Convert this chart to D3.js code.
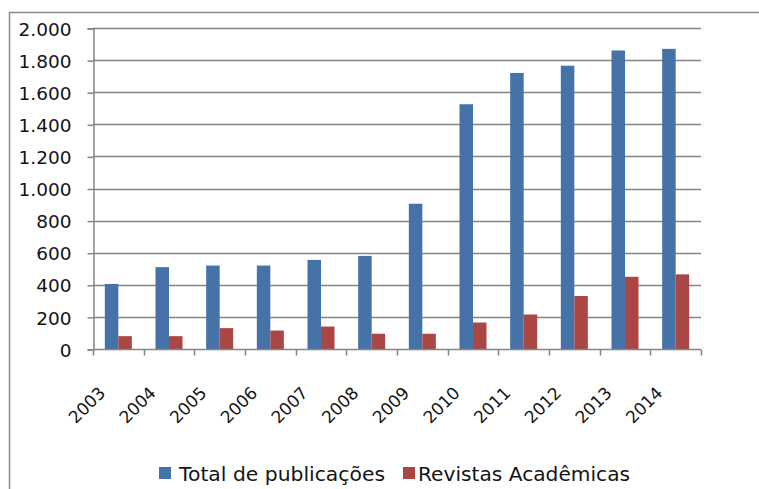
<!DOCTYPE html>
<html>
<head>
<meta charset="utf-8">
<script src="https://cdn.jsdelivr.net/npm/d3@7"></script>
<style>
  html, body { margin: 0; padding: 0; background: #fff; }
  svg { display: block; }
  text { font-family: "DejaVu Sans", sans-serif; fill: #141414; }
</style>
</head>
<body>
<div id="chart"></div>
<script>
// dados
const anos = ['2003', '2004', '2005', '2006', '2007', '2008', '2009', '2010', '2011', '2012', '2013', '2014'];
const totalPublicacoes = [405, 510, 520, 520, 555, 580, 905, 1525, 1720, 1765, 1860, 1870];
const revistasAcademicas = [80, 80, 130, 115, 140, 95, 95, 165, 215, 330, 450, 465];
const yTicks = [0, 200, 400, 600, 800, 1000, 1200, 1400, 1600, 1800, 2000];
const series = ['Total de publicações', 'Revistas Acadêmicas'];
const cores = ['#4572a7', '#aa4643'];

const W = 759, H = 489;
const plot = { left: 93, right: 701, top: 28, bottom: 349 };

const svg = d3.select('#chart').append('svg').attr('width', W).attr('height', H);

// moldura do grafico (cortada a direita e embaixo)
svg.append('rect')
    .attr('x', 9.5).attr('y', 12.5)
    .attr('width', 800).attr('height', 600)
    .attr('fill', 'none').attr('stroke', '#8c8c8c').attr('stroke-width', 1.5);

const y = d3.scaleLinear().domain([0, 2000]).range([plot.bottom, plot.top]);
const x0 = d3.scaleBand().domain(anos).range([plot.left, plot.right])
    .paddingInner(0.467).paddingOuter(0.2335);
const x1 = d3.scaleBand().domain([0, 1]).range([0, x0.bandwidth()]);

const fmt = (v) => d3.format(',')(v).replace(/,/g, '.');

// grade horizontal
svg.append('g')
    .selectAll('line')
    .data(yTicks.filter(d => d > 0))
    .join('line')
    .attr('x1', plot.left).attr('x2', plot.right)
    .attr('y1', d => Math.round(y(d)) + 0.5).attr('y2', d => Math.round(y(d)) + 0.5)
    .attr('stroke', '#858585').attr('stroke-width', 1.5);

// eixo Y
const yAxis = svg.append('g')
    .attr('transform', `translate(${plot.left + 0.5},0.5)`)
    .call(d3.axisLeft(y).tickValues(yTicks).tickFormat(fmt).tickSize(6).tickPadding(16));
yAxis.selectAll('line, path').attr('stroke', '#858585').attr('stroke-width', 1.5);
yAxis.selectAll('text').style('font-size', '18.5px').attr('dy', '0.36em');

// barras
const grupos = svg.append('g')
    .selectAll('g')
    .data(anos.map((a, i) => ({ ano: a, vals: [totalPublicacoes[i], revistasAcademicas[i]] })))
    .join('g')
    .attr('transform', d => `translate(${x0(d.ano)},0)`);

grupos.selectAll('rect')
    .data(d => d.vals.map((v, k) => ({ v, k })))
    .join('rect')
    .attr('x', d => x1(d.k))
    .attr('width', x1.bandwidth())
    .attr('y', d => y(d.v))
    .attr('height', d => y(0) - y(d.v))
    .attr('fill', d => cores[d.k]);

// eixo X
const xTicks = d3.scaleLinear().domain([0, anos.length]).range([plot.left, plot.right]);
const xAxis = svg.append('g')
    .attr('transform', `translate(0,${plot.bottom + 0.5})`);
xAxis.append('line')
    .attr('x1', plot.left).attr('x2', plot.right)
    .attr('stroke', '#858585').attr('stroke-width', 1.5);
xAxis.selectAll('.tick')
    .data(d3.range(anos.length + 1))
    .join('line')
    .attr('x1', d => Math.round(xTicks(d)) + 0.5).attr('x2', d => Math.round(xTicks(d)) + 0.5)
    .attr('y1', 0).attr('y2', 6)
    .attr('stroke', '#858585').attr('stroke-width', 1.5);

svg.append('g')
    .selectAll('text')
    .data(anos)
    .join('text')
    .attr('transform', d => `translate(${x0(d) + x0.bandwidth() / 2 - 12},${plot.bottom + 45}) rotate(-45)`)
    .attr('text-anchor', 'end')
    .style('font-size', '17px')
    .text(d => d);

// legenda
const legenda = [
    { nome: series[0], cor: cores[0], qx: 159, tx: 179, largura: 206 },
    { nome: series[1], cor: cores[1], qx: 403, tx: 418, largura: 212 }
];
const lg = svg.append('g').selectAll('g').data(legenda).join('g');
lg.append('rect')
    .attr('x', d => d.qx).attr('y', 467)
    .attr('width', 12).attr('height', 12)
    .attr('fill', d => d.cor);
lg.append('text')
    .attr('x', d => d.tx).attr('y', 481)
    .attr('textLength', d => d.largura)
    .attr('lengthAdjust', 'spacingAndGlyphs')
    .style('font-size', '19px')
    .text(d => d.nome);
</script>
</body>
</html>
